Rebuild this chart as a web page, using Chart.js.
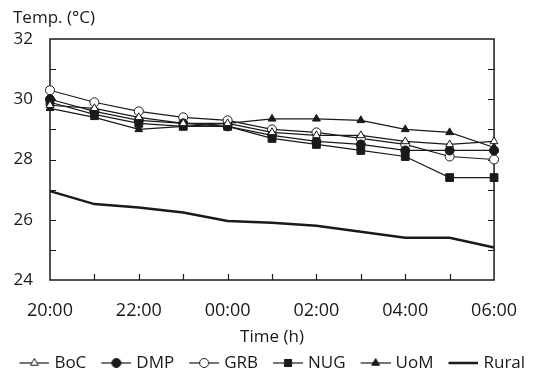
<!DOCTYPE html>
<html>
<head>
<meta charset="utf-8">
<script src="https://cdn.jsdelivr.net/npm/chart.js@4.4.1/dist/chart.umd.min.js"></script>
<style>
  html, body { margin: 0; padding: 0; background: #fff; }
  #wrap { width: 537px; height: 373px; overflow: hidden; }
</style>
</head>
<body>
<div id="wrap"><canvas id="myChart" width="537" height="373"></canvas></div>
<script>
// hourly readings, 20:00 to 06:00
const hours = ['20:00', '21:00', '22:00', '23:00', '00:00', '01:00', '02:00', '03:00', '04:00', '05:00', '06:00'];
const boc = [29.8, 29.7, 29.4, 29.2, 29.2, 28.9, 28.8, 28.8, 28.6, 28.5, 28.6];
const dmp = [30.0, 29.6, 29.3, 29.2, 29.1, 28.8, 28.6, 28.5, 28.3, 28.3, 28.3];
const grb = [30.3, 29.9, 29.6, 29.4, 29.3, 29.0, 28.9, 28.7, 28.5, 28.1, 28.0];
const nug = [29.9, 29.5, 29.2, 29.1, 29.1, 28.7, 28.5, 28.3, 28.1, 27.4, 27.4];
const uom = [29.7, 29.4, 29.0, 29.1, 29.2, 29.35, 29.35, 29.3, 29.0, 28.9, 28.4];
const rural = [26.95, 26.52, 26.41, 26.24, 25.96, 25.9, 25.8, 25.6, 25.4, 25.4, 25.08];

const yMin = 24;
const yMax = 32;
const yUnit = 'Temp. (°C)';

const ink = '#1a1a1a';
const fontFamily = '"Open Sans", "DejaVu Sans", sans-serif';

// legend icon: 30px line with the marker in the middle, 11px empty on the left
function legendIcon(style, filled, width) {
    const c = document.createElement('canvas');
    c.width = 41;
    c.height = 14;
    const g = c.getContext('2d');
    g.strokeStyle = ink;
    g.lineWidth = width;
    g.beginPath();
    g.moveTo(11, 7);
    g.lineTo(41, 7);
    g.stroke();
    if (style) {
        g.fillStyle = filled ? ink : '#fff';
        g.lineWidth = 1;
        Chart.helpers.drawPoint(g, { pointStyle: style, radius: style === 'rect' ? 5 : 4.5, borderWidth: 1, rotation: 0 }, 26, 7);
    }
    return c;
}

function series(label, data, style, filled) {
    return {
        label: label,
        data: data,
        borderColor: ink,
        borderWidth: 1.2,
        pointStyle: style,
        pointRadius: style === 'rect' ? 5.5 : 4.5,
        pointBackgroundColor: filled ? ink : '#fff',
        pointBorderColor: ink,
        pointBorderWidth: 1,
        tension: 0,
        icon: legendIcon(style, filled, 1.2)
    };
}

const datasets = [
    series('BoC', boc, 'triangle', false),
    series('DMP', dmp, 'circle', true),
    series('GRB', grb, 'circle', false),
    series('NUG', nug, 'rect', true),
    series('UoM', uom, 'triangle', true),
    {
        label: 'Rural',
        data: rural,
        borderColor: ink,
        borderWidth: 2.5,
        pointRadius: 0,
        tension: 0,
        icon: legendIcon(null, false, 2.5)
    }
];

// frame, inward tick marks and the unit label over the y axis
const frame = {
    id: 'frame',
    beforeDatasetsDraw(chart) {
        const a = chart.chartArea;
        const ctx = chart.ctx;
        const x = chart.scales.x;
        const y = chart.scales.y;
        ctx.save();
        ctx.strokeStyle = ink;
        ctx.lineWidth = 1.5;
        ctx.strokeRect(a.left, a.top, a.right - a.left, a.bottom - a.top);
        ctx.lineWidth = 1.2;
        ctx.beginPath();
        for (let v = yMin + 1; v < yMax; v++) {
            const py = Math.round(y.getPixelForValue(v)) + 0.5;
            ctx.moveTo(a.left, py);
            ctx.lineTo(a.left + 6, py);
            ctx.moveTo(a.right, py);
            ctx.lineTo(a.right - 6, py);
        }
        for (let i = 1; i < hours.length - 1; i++) {
            const px = Math.round(x.getPixelForValue(i)) + 0.5;
            ctx.moveTo(px, a.bottom);
            ctx.lineTo(px, a.bottom - 6);
        }
        ctx.stroke();

        ctx.fillStyle = ink;
        ctx.font = '17px ' + fontFamily;
        ctx.textAlign = 'left';
        ctx.textBaseline = 'middle';
        ctx.fillText(yUnit, 13, a.top - 21);
        ctx.restore();
    }
};

const ctx = document.getElementById('myChart').getContext('2d');
const chart = new Chart(ctx, {
    type: 'line',
    data: { labels: hours, datasets: datasets },
    plugins: [frame],
    options: {
        responsive: false,
        animation: false,
        layout: { padding: { left: 0, right: 0, top: 39, bottom: -8.5 } },
        plugins: {
            tooltip: { enabled: false },
            legend: {
                position: 'bottom',
                labels: {
                    color: ink,
                    font: { family: fontFamily, size: 17 },
                    usePointStyle: true,
                    pointStyleWidth: 34,
                    padding: 7.5,
                    generateLabels: function(chart) {
                        return chart.data.datasets.map((ds, i) => ({
                            text: ds.label,
                            pointStyle: ds.icon,
                            fontColor: ink,
                            strokeStyle: ink,
                            fillStyle: ink,
                            lineWidth: 0,
                            hidden: false,
                            datasetIndex: i
                        }));
                    }
                }
            }
        },
        scales: {
            x: {
                type: 'category',
                offset: false,
                grid: { display: false, drawTicks: false },
                border: { display: false },
                afterFit: function(scale) { scale.height = 67; },
                ticks: {
                    color: ink,
                    autoSkip: false,
                    maxRotation: 0,
                    padding: 20,
                    font: { family: fontFamily, size: 18 },
                    callback: function(value, index) {
                        return index % 2 === 0 ? hours[index] : '';
                    }
                },
                title: {
                    display: true,
                    text: 'Time (h)',
                    color: ink,
                    font: { family: fontFamily, size: 17 },
                    padding: { top: 4, bottom: 0 }
                }
            },
            y: {
                min: yMin,
                max: yMax,
                grid: { display: false, drawTicks: false },
                border: { display: false },
                afterFit: function(scale) { scale.width = 50; },
                ticks: {
                    stepSize: 1,
                    color: ink,
                    padding: 17,
                    font: { family: fontFamily, size: 17 },
                    callback: function(value) {
                        return value % 2 === 0 ? value : '';
                    }
                }
            },
            y2: {
                position: 'right',
                min: yMin,
                max: yMax,
                grid: { display: false, drawTicks: false },
                border: { display: false },
                ticks: { display: false },
                afterFit: function(scale) { scale.width = 40; }
            }
        }
    }
});
</script>
</body>
</html>
